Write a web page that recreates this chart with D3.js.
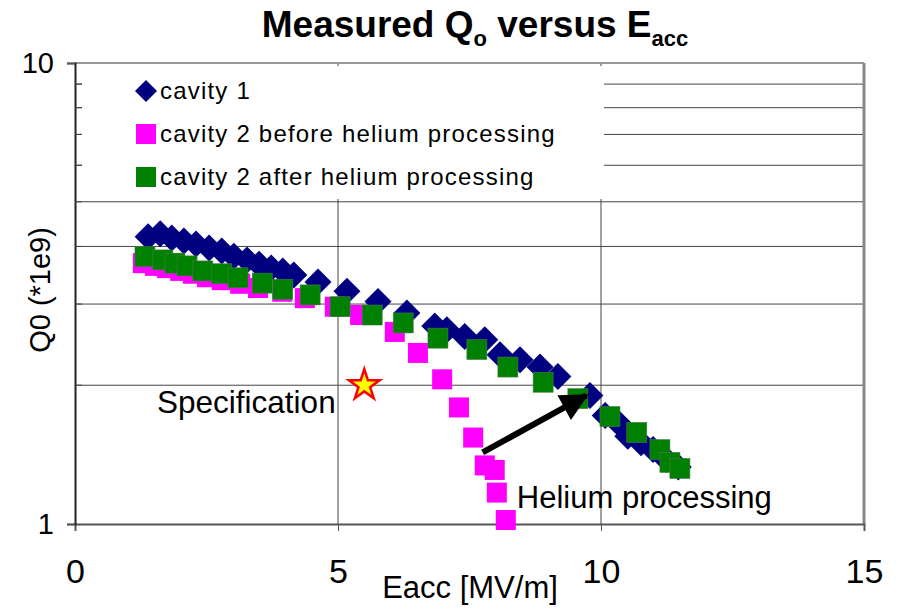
<!DOCTYPE html>
<html>
<head>
<meta charset="utf-8">
<script src="https://cdnjs.cloudflare.com/ajax/libs/d3/7.8.5/d3.min.js"></script>
<style>
  body { margin: 0; background: #fff; }
  svg text { font-family: Arial, "Liberation Sans", sans-serif; fill: #000; }
</style>
</head>
<body>
<div id="chart-area"></div>
<script>
// Eacc [MV/m] and Q0 (*1e9)
const cavity1E = [1.39, 1.62, 1.84, 2.07, 2.30, 2.55, 2.79, 3.02, 3.27, 3.50, 3.73, 3.95, 4.16,
                  4.62, 5.17, 5.76, 6.31, 6.84, 7.07, 7.41, 7.79, 8.08, 8.46, 8.84, 9.18,
                  9.79, 10.08, 10.32, 10.51, 10.76, 10.99, 11.24, 11.47];
const cavity1Q = [4.20, 4.26, 4.17, 4.11, 4.05, 3.97, 3.91, 3.81, 3.74, 3.66, 3.59, 3.54, 3.47,
                  3.35, 3.20, 3.04, 2.87, 2.69, 2.64, 2.55, 2.51, 2.33, 2.27, 2.19, 2.09,
                  1.90, 1.72, 1.66, 1.55, 1.50, 1.45, 1.38, 1.33];

const beforeE = [1.29, 1.52, 1.75, 2.00, 2.24, 2.51, 2.79, 3.14, 3.48, 3.94, 4.37, 4.94,
                 5.42, 6.08, 6.52, 6.98, 7.30, 7.57, 7.79, 7.98, 8.02, 8.19];
const beforeQ = [3.68, 3.63, 3.59, 3.54, 3.49, 3.43, 3.38, 3.32, 3.25, 3.19, 3.09, 2.96,
                 2.84, 2.61, 2.35, 2.06, 1.79, 1.54, 1.34, 1.31, 1.17, 1.02];

const afterE = [1.33, 1.67, 1.90, 2.13, 2.43, 2.79, 3.10, 3.56, 3.95, 4.47, 5.04, 5.65,
                6.24, 6.90, 7.64, 8.23, 8.90, 9.56, 10.17, 10.68, 11.12, 11.31, 11.50];
const afterQ = [3.80, 3.74, 3.68, 3.63, 3.54, 3.49, 3.42, 3.33, 3.23, 3.14, 2.96, 2.84,
                2.73, 2.53, 2.39, 2.19, 2.03, 1.87, 1.71, 1.58, 1.45, 1.36, 1.32];

const xTicks = [0, 5, 10, 15];
const yTicks = [1, 10];
const yMinor = [2, 3, 4, 5, 6, 7, 8, 9];
const legendLabels = ["cavity 1", "cavity 2 before helium processing", "cavity 2 after helium processing"];

// specification point and the arrow (start, end) in data units
const specPoint = [5.5, 2.0];
const arrowE = [7.75, 9.72];
const arrowQ = [1.43, 1.90];

const W = 899, H = 612;
const MARGIN = {LEFT: 75, RIGHT: 35, TOP: 63, BOTTOM: 88};

const svg = d3.select("#chart-area").append("svg")
    .attr("width", W)
    .attr("height", H);

const xScale = d3.scaleLinear().domain([0, 15]).range([MARGIN.LEFT, W - MARGIN.RIGHT]);
const yScale = d3.scaleLog().domain([1, 10]).range([H - MARGIN.BOTTOM, MARGIN.TOP]);

const x0 = xScale.range()[0], x1 = xScale.range()[1];
const yBot = yScale.range()[0], yTop = yScale.range()[1];

// title
const title = svg.append("text")
    .attr("x", 475)
    .attr("y", 37)
    .attr("text-anchor", "middle")
    .style("font-size", "37px")
    .style("font-weight", "bold");
title.append("tspan").text("Measured Q");
title.append("tspan").attr("dy", 9).style("font-size", "22px").text("o");
title.append("tspan").attr("dy", -9).text(" versus E");
title.append("tspan").attr("dy", 9).style("font-size", "22px").text("acc");

// gridlines
svg.append("g").selectAll("line")
    .data(yMinor)
    .join("line")
    .attr("x1", x0).attr("x2", x1)
    .attr("y1", d => yScale(d)).attr("y2", d => yScale(d))
    .attr("stroke", "#444")
    .attr("stroke-width", 1);

svg.append("g").selectAll("line")
    .data([5, 10])
    .join("line")
    .attr("x1", d => xScale(d)).attr("x2", d => xScale(d))
    .attr("y1", yTop).attr("y2", yBot)
    .attr("stroke", "#444")
    .attr("stroke-width", 1);

// plot frame (top and right)
svg.append("line")
    .attr("x1", x0).attr("x2", x1).attr("y1", yTop).attr("y2", yTop)
    .attr("stroke", "#999").attr("stroke-width", 2);
svg.append("line")
    .attr("x1", x1).attr("x2", x1).attr("y1", yTop).attr("y2", yBot)
    .attr("stroke", "#888").attr("stroke-width", 3);

// legend box covers the upper gridlines
const legend = svg.append("g");
legend.append("rect")
    .attr("x", 82).attr("y", 66)
    .attr("width", 522).attr("height", 133)
    .attr("fill", "#fff");

// axes
const xAxisCall = d3.axisBottom(xScale).tickValues(xTicks).tickSize(7).tickFormat(d3.format("d"));
const xAxis = svg.append("g")
    .attr("transform", `translate(0, ${yBot})`)
    .call(xAxisCall);
xAxis.select(".domain").attr("stroke", "#555").attr("stroke-width", 2);
xAxis.selectAll(".tick line").attr("stroke", "#555");
xAxis.selectAll(".tick text")
    .attr("y", 35)
    .style("font-size", "34px")
    .style("font-family", "Arial, 'Liberation Sans', sans-serif");

const yAxisCall = d3.axisLeft(yScale).tickValues(yTicks).tickSize(8).tickFormat(d3.format("d"));
const yAxis = svg.append("g")
    .attr("transform", `translate(${x0}, 0)`)
    .call(yAxisCall);
yAxis.select(".domain").attr("stroke", "#222").attr("stroke-width", 2);
yAxis.selectAll(".tick line").attr("stroke", "#555");
yAxis.selectAll(".tick text")
    .attr("x", -21)
    .style("font-size", "29px")
    .style("font-family", "Arial, 'Liberation Sans', sans-serif");

// minor ticks inside the axis
svg.append("g").selectAll("line")
    .data(yMinor)
    .join("line")
    .attr("x1", x0).attr("x2", x0 + 7)
    .attr("y1", d => yScale(d)).attr("y2", d => yScale(d))
    .attr("stroke", "#444");

// axis titles
svg.append("text")
    .attr("x", 470)
    .attr("y", 598)
    .attr("text-anchor", "middle")
    .style("font-size", "31px")
    .text("Eacc [MV/m]");

svg.append("text")
    .attr("transform", "translate(50, 290) rotate(-90)")
    .attr("text-anchor", "middle")
    .style("font-size", "29px")
    .text("Q0 (*1e9)");

// markers
const diamond = "M0,-13.5L13.5,0L0,13.5L-13.5,0Z";

const c1 = cavity1E.map((e, i) => ({e: e, q: cavity1Q[i]}));
const c2b = beforeE.map((e, i) => ({e: e, q: beforeQ[i]}));
const c2a = afterE.map((e, i) => ({e: e, q: afterQ[i]}));

svg.append("g").selectAll("path")
    .data(c1)
    .join("path")
    .attr("d", diamond)
    .attr("transform", d => `translate(${xScale(d.e)}, ${yScale(d.q)})`)
    .attr("fill", "#000080");

svg.append("g").selectAll("rect")
    .data(c2b)
    .join("rect")
    .attr("x", d => xScale(d.e) - 10)
    .attr("y", d => yScale(d.q) - 10)
    .attr("width", 20).attr("height", 20)
    .attr("fill", "#ff00ff");

svg.append("g").selectAll("rect")
    .data(c2a)
    .join("rect")
    .attr("x", d => xScale(d.e) - 10)
    .attr("y", d => yScale(d.q) - 10)
    .attr("width", 20).attr("height", 20)
    .attr("fill", "#008000")
    .attr("stroke", "#4a7a4a")
    .attr("stroke-width", 0.6);

// legend entries
const legendRows = legend.selectAll(".row")
    .data(legendLabels)
    .join("g")
    .attr("class", "row")
    .attr("transform", (d, i) => `translate(146, ${91 + i * 43})`);

legendRows.each(function (d, i) {
    const g = d3.select(this);
    if (i === 0) {
        g.append("path").attr("d", "M0,-11L11,0L0,11L-11,0Z").attr("fill", "#000080");
    } else {
        g.append("rect")
            .attr("x", -10).attr("y", -10)
            .attr("width", 20).attr("height", 20)
            .attr("fill", i === 1 ? "#ff00ff" : "#008000");
    }
    g.append("text")
        .attr("x", 14)
        .attr("y", 8)
        .style("font-size", "24px")
        .style("letter-spacing", "1.2px")
        .text(d);
});

// specification star
const star = d3.symbol().type(d3.symbolStar).size(290);
svg.append("path")
    .attr("d", star())
    .attr("transform", `translate(${xScale(specPoint[0])}, ${yScale(specPoint[1])})`)
    .attr("fill", "#ffff00")
    .attr("stroke", "#ff0000")
    .attr("stroke-width", 2.5);

svg.append("text")
    .attr("x", xScale(1.56))
    .attr("y", yScale(1.74))
    .style("font-size", "31.5px")
    .text("Specification");

// helium processing arrow
svg.append("defs").append("marker")
    .attr("id", "head")
    .attr("viewBox", "0 0 10 10")
    .attr("refX", 9).attr("refY", 5)
    .attr("markerUnits", "userSpaceOnUse")
    .attr("markerWidth", 30).attr("markerHeight", 28)
    .attr("orient", "auto")
    .append("path")
    .attr("d", "M0,0L10,5L0,10Z")
    .attr("fill", "#000");

svg.append("line")
    .attr("x1", xScale(arrowE[0])).attr("y1", yScale(arrowQ[0]))
    .attr("x2", xScale(arrowE[1])).attr("y2", yScale(arrowQ[1]))
    .attr("stroke", "#000")
    .attr("stroke-width", 6)
    .attr("marker-end", "url(#head)");

svg.append("text")
    .attr("x", xScale(8.40))
    .attr("y", yScale(1.083))
    .style("font-size", "31px")
    .text("Helium processing");
</script>
</body>
</html>
